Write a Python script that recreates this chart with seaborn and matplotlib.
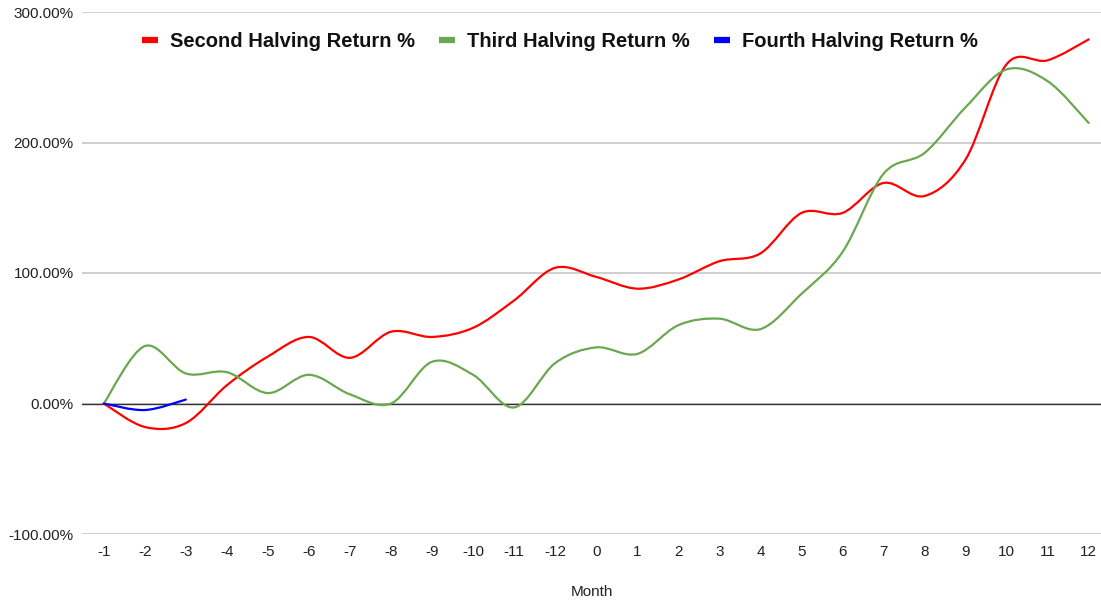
import matplotlib
matplotlib.use("Agg")
import matplotlib.pyplot as plt
import seaborn as sns
import pandas as pd
from matplotlib.path import Path
from matplotlib.patches import PathPatch
from matplotlib.lines import Line2D

sns.set_theme(style="white")
plt.rcParams["font.family"] = ["Liberation Sans", "DejaVu Sans"]

# -------------------------------------------------------------
# Data
# -------------------------------------------------------------
months = ["-1", "-2", "-3", "-4", "-5", "-6", "-7", "-8", "-9", "-10", "-11", "-12",
          "0", "1", "2", "3", "4", "5", "6", "7", "8", "9", "10", "11", "12"]
second_halving = [0, -18, -15, 14, 36, 51, 35, 55, 51, 58, 79, 104,
                  97, 88, 95, 109, 115, 146, 146, 169, 159, 187, 260, 263, 279]
third_halving = [0, 44, 23, 24, 8, 22, 7, 0, 32, 22, -3, 31,
                 43, 38, 60, 65, 57, 84, 116, 176, 192, 227, 256, 247, 215]
fourth_halving = [0, -5, 3]

series_names = ["Second Halving Return %", "Third Halving Return %", "Fourth Halving Return %"]
colors = ["#ff0000", "#6aa84f", "#0000ff"]

rows = []
for name, vals in zip(series_names, [second_halving, third_halving, fourth_halving]):
    for i, v in enumerate(vals):
        rows.append({"pos": i, "Month": months[i], "Return": v, "Series": name})
df = pd.DataFrame(rows)


def smooth_path(xy):
    """Catmull-Rom style cubic bezier path through the points."""
    n = len(xy)
    verts = [tuple(xy[0])]
    codes = [Path.MOVETO]
    for i in range(n - 1):
        p0 = xy[i - 1] if i > 0 else xy[i]
        p1 = xy[i]
        p2 = xy[i + 1]
        p3 = xy[i + 2] if i + 2 < n else xy[i + 1]
        c1 = p1 + (p2 - p0) / 6.0
        c2 = p2 - (p3 - p1) / 6.0
        verts += [tuple(c1), tuple(c2), tuple(p2)]
        codes += [Path.CURVE4, Path.CURVE4, Path.CURVE4]
    return Path(verts, codes)


fig, ax = plt.subplots(figsize=(11.01, 6.0), dpi=100)
fig.subplots_adjust(left=0.0745, right=1.0, top=0.98, bottom=0.11)

sns.lineplot(data=df, x="pos", y="Return", hue="Series", hue_order=series_names,
             palette=colors, estimator=None, sort=False, legend=False, ax=ax)

# swap the straight segments for smoothed curves
for line, color in zip(list(ax.get_lines()), colors):
    xy = line.get_xydata()
    line.remove()
    ax.add_patch(PathPatch(smooth_path(xy), facecolor="none", edgecolor=color,
                           lw=1.6, capstyle="round", joinstyle="round", zorder=3))

ax.set_xlim(-0.53, 24.3)
ax.set_ylim(-100, 300)
ax.set_xticks(range(len(months)))
ax.set_xticklabels(months)
ax.set_yticks([-100, 0, 100, 200, 300])
ax.set_yticklabels([f"{v:.2f}%" for v in [-100, 0, 100, 200, 300]])
ax.tick_params(axis="both", length=0, labelsize=11, labelcolor="#222222")
ax.tick_params(axis="y", pad=6)
ax.tick_params(axis="x", pad=8)

for s in ax.spines.values():
    s.set_visible(False)
ax.yaxis.grid(True, color="#cccccc", lw=1.3)
ax.xaxis.grid(False)
ax.set_axisbelow(True)
ax.axhline(0, color="#333333", lw=1.0, zorder=2)

ax.set_xlabel("Month", fontsize=11, color="#222222", labelpad=19)
ax.set_ylabel("")

handles = [Line2D([0], [0], color=c, lw=4.5, solid_capstyle="butt") for c in colors]
leg = ax.legend(handles, series_names, loc="center", bbox_to_anchor=(0.469, 0.944),
                ncol=3, frameon=False, handlelength=0.8, handletextpad=0.6,
                columnspacing=1.2, prop={"weight": "bold", "size": 14.5})
for t in leg.get_texts():
    t.set_color("#111111")

plt.savefig("out.png", dpi=100)
